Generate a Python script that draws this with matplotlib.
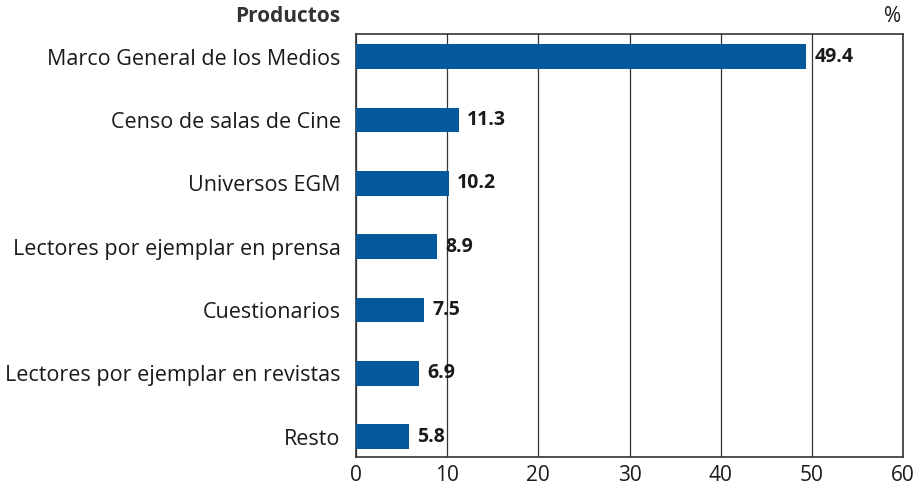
import numpy as np
import matplotlib.pyplot as plt

plt.rcParams['font.family'] = ['Open Sans', 'DejaVu Sans']

# data
productos = ['Marco General de los Medios', 'Censo de salas de Cine', 'Universos EGM',
             'Lectores por ejemplar en prensa', 'Cuestionarios',
             'Lectores por ejemplar en revistas', 'Resto']
valores = [49.4, 11.3, 10.2, 8.9, 7.5, 6.9, 5.8]
xticks = [0, 10, 20, 30, 40, 50, 60]

fig = plt.figure(figsize=(9.23, 4.95), dpi=100)
ax = fig.add_axes([356 / 923, 1 - 457 / 495, (903 - 356) / 923, (457 - 34) / 495])

y = np.arange(len(productos))
ax.barh(y, valores, height=0.39, color='#03599c', zorder=3)
for yi, v in zip(y, valores):
    ax.text(v + 0.9, yi, f'{v:.1f}', va='center', ha='left', fontsize=14,
            fontweight='bold', color='#1a1a1a', zorder=4)

ax.set_xlim(0, 60)
ax.set_ylim(6.32, -0.36)
ax.set_xticks(xticks)
ax.set_xticklabels([str(t) for t in xticks], fontsize=15)
ax.set_yticks(y)
ax.set_yticklabels(productos, fontsize=15.5)
ax.tick_params(axis='y', length=0, pad=11, colors='#1a1a1a')
ax.tick_params(axis='x', length=0, pad=6, colors='#1a1a1a')
ax.grid(axis='x', color='#333333', linewidth=0.9, zorder=0)
for s in ax.spines.values():
    s.set_color('#333333')
    s.set_linewidth(1.2)

fig.text(340 / 923, 1 - 17 / 495, 'Productos', ha='right', va='center',
         fontsize=15, fontweight='bold', color='#333333')
fig.text(901 / 923, 1 - 17 / 495, '%', ha='right', va='center',
         fontsize=15, color='#1a1a1a')

fig.savefig('out.png', dpi=100)
